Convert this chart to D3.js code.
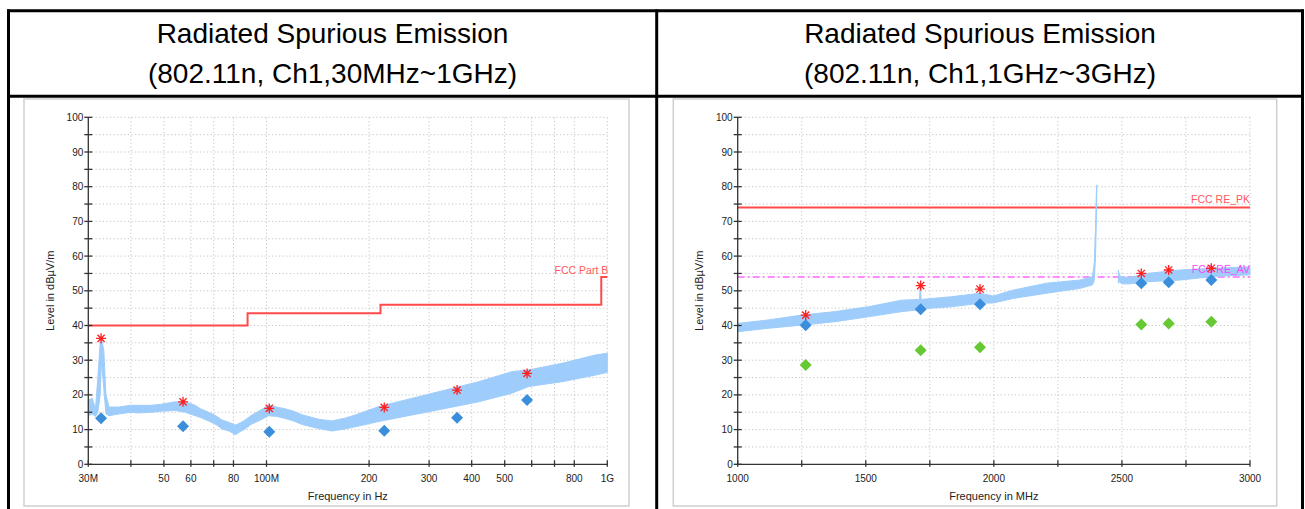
<!DOCTYPE html>
<html><head><meta charset="utf-8">
<script src="https://cdn.jsdelivr.net/npm/d3@7"></script>
<style>
body{margin:0;background:#fff}
svg{display:block;font-family:"Liberation Sans",Arial,sans-serif}
</style>
</head><body>
<svg id="c" width="1305" height="509"></svg>
<script>
// ---------------- DATA ----------------
const titleLine1 = ["Radiated Spurious Emission", "Radiated Spurious Emission"];
const titleLine2 = ["(802.11n, Ch1,30MHz~1GHz)", "(802.11n, Ch1,1GHz~3GHz)"];
const yTickValues = [0, 10, 20, 30, 40, 50, 60, 70, 80, 90, 100];
const yMinorValues = [5, 15, 25, 35, 45, 55, 65, 75, 85, 95];
const yTitle = "Level in dBµV/m";

// Left chart (30 MHz ~ 1 GHz, log axis)
const leftXTicks = [30, 40, 50, 60, 70, 80, 100, 200, 300, 400, 500, 600, 700, 800, 1000];
const leftXLabels = {30: "30M", 50: "50", 60: "60", 80: "80", 100: "100M", 200: "200", 300: "300", 400: "400", 500: "500", 800: "800", 1000: "1G"};
const leftXTitle = "Frequency in Hz";
const leftTraceFreq = [30, 30.8, 31.5, 32.0, 32.5, 32.8, 33.3, 33.8, 34.5, 36.8, 40, 42, 46, 49, 54, 57.8, 61.8, 64, 67.6, 71, 74, 78, 81, 84, 86.6, 90, 94.8, 101.4, 107, 113.5, 120, 127, 142, 155.6, 170, 182, 213, 267, 335, 419, 525, 588, 737, 922, 1000];
const leftTraceLo = [14, 14.5, 13.8, 15, 20, 30, 22, 14.5, 14, 14.5, 15, 14.8, 15, 15.3, 15.5, 15, 14, 13.5, 12.5, 11.5, 10.2, 9.5, 8.5, 9.5, 10.2, 11.5, 12.5, 14, 13.8, 13.2, 12.5, 11.5, 10.3, 9.6, 10.2, 10.8, 12.3, 14.2, 16.1, 18, 20.5, 22.4, 23.8, 25.7, 26.5];
const leftTraceHi = [18.5, 19, 16, 25, 35, 36, 33, 20, 16.5, 16.5, 17, 17, 17, 17.3, 18, 18, 17, 16, 15, 14, 12.8, 12, 11.3, 12, 12.8, 14, 15.3, 17, 16.5, 16, 15.3, 14.3, 13, 12.5, 13.3, 14.2, 16.6, 19, 21.4, 23.8, 26.7, 27.2, 29.1, 31.5, 32];
const leftLimitFreq = [30, 88, 88, 216, 216, 960, 960, 1000];
const leftLimitLevel = [40, 40, 43.5, 43.5, 46, 46, 54, 54];
const leftLimitName = "FCC Part B";
const leftMarkFreq = [32.7, 56.9, 101.9, 221.6, 362.4, 581.5];
const leftPeak = [36.3, 18.0, 16.1, 16.4, 21.4, 26.2];
const leftQP = [13.3, 11.0, 9.4, 9.7, 13.4, 18.5];

// Right chart (1 GHz ~ 3 GHz, linear axis)
const rightXTicks = [1000, 1250, 1500, 1750, 2000, 2250, 2500, 2750, 3000];
const rightXLabels = {1000: "1000", 1500: "1500", 2000: "2000", 2500: "2500", 3000: "3000"};
const rightXTitle = "Frequency in MHz";
const rightTraceFreq = [1000, 1119, 1250, 1380, 1510, 1640, 1705, 1710, 1712, 1714, 1716, 1835, 1946, 1998, 2076, 2206, 2337, 2385, 2392, 2397, 2400, 2402, 2403, 2486, 2490, 2500, 2532, 2597, 2727, 2857, 3000];
const rightTraceLo = [38.2, 39.2, 40.1, 41.1, 42.5, 44, 44.5, 44.8, 45, 45, 44.8, 45.4, 46.4, 46.5, 47.8, 49.3, 50.7, 51.7, 53, 60, 70, 79.5, null, 52.2, 52.6, 52, 52, 52.6, 53.1, 54.1, 54.6];
const rightTraceHi = [40.6, 41.6, 43, 44, 45.4, 47.3, 47.5, 47.6, 51.2, 51.2, 47.5, 48.3, 49.3, 48.5, 50.2, 52.2, 53.1, 54.1, 58, 68, 78, 80.5, null, 56, 54.5, 54, 53.9, 55, 56, 56.5, 56.9];
const rightLimitPK = 74, rightLimitAV = 54;
const rightLimitPKName = "FCC RE_PK", rightLimitAVName = "FCC RE_AV";
const rightMarkFreq = [1265.5, 1714.4, 1946, 2575.7, 2682.5, 2848.9];
const rightPeak = [43.0, 51.5, 50.5, 55.0, 56.0, 56.5];
const rightPK = [40.1, 44.7, 46.1, 52.2, 52.5, 53.1];
const rightAV = [28.6, 32.9, 33.7, 40.3, 40.6, 41.1];

// ---------------- DRAW ----------------
const svg = d3.select("#c");
const C = {
  trace: "#9fcdfb", diamond: "#3a8edc", green: "#66c933", star: "#ff2020",
  limit: "#ff4a4a", av: "#ff66ff", axis: "#333", grid: "#c4c4c4", frame: "#cfcfcf"
};

// table borders
const tb = svg.append("g").attr("stroke", "#000").attr("stroke-width", 3).attr("fill", "none");
tb.append("line").attr("x1", 7).attr("x2", 1304).attr("y1", 10.8).attr("y2", 10.8);
tb.append("line").attr("x1", 8.5).attr("x2", 8.5).attr("y1", 9.5).attr("y2", 509);
tb.append("line").attr("x1", 1302.5).attr("x2", 1302.5).attr("y1", 9.5).attr("y2", 509);
tb.append("line").attr("x1", 7).attr("x2", 1304).attr("y1", 96.3).attr("y2", 96.3);
tb.append("line").attr("x1", 656.7).attr("x2", 656.7).attr("y1", 9.5).attr("y2", 509);

// header titles
[332.5, 980].forEach((cx, i) => {
  svg.append("text").attr("x", cx).attr("y", 43).attr("text-anchor", "middle")
    .attr("font-size", 28).attr("fill", "#000").text(titleLine1[i]);
  svg.append("text").attr("x", cx).attr("y", 83).attr("text-anchor", "middle")
    .attr("font-size", 28).attr("fill", "#000").text(titleLine2[i]);
});

function star(r) {
  const a = r * 0.72;
  return `M0,${-r}L0,${r}M${-r},0L${r},0M${-a},${-a}L${a},${a}M${-a},${a}L${a},${-a}`;
}
const diamondPath = "M0,-6L6,0L0,6L-6,0Z";

function chart(opt) {
  const g = svg.append("g");
  // frame
  g.append("rect").attr("x", opt.frame[0]).attr("y", 99).attr("width", opt.frame[1] - opt.frame[0])
    .attr("height", 407).attr("fill", "#fff").attr("stroke", C.frame).attr("stroke-width", 1.5);
  const x = opt.x, y = d3.scaleLinear().domain([0, 100]).range([464.3, 117.3]);
  const [xa, xb] = x.range();
  // grid
  const grid = g.append("g").attr("stroke", C.grid).attr("stroke-width", 1).attr("stroke-dasharray", "1.2,2.4");
  yTickValues.concat(yMinorValues).filter(v => v > 0).forEach(v => {
    grid.append("line").attr("x1", xa).attr("x2", xb).attr("y1", y(v)).attr("y2", y(v));
  });
  opt.xTicks.slice(1).forEach(v => {
    grid.append("line").attr("x1", x(v)).attr("x2", x(v)).attr("y1", y(0)).attr("y2", y(100));
  });
  // limits
  opt.limits(g, x, y);
  // trace
  const data = opt.tf.map((f, i) => ({f, lo: opt.tlo[i], hi: opt.thi[i]}));
  const area = d3.area().defined(d => d.lo != null).x(d => x(d.f)).y0(d => y(d.lo)).y1(d => y(d.hi));
  g.append("path").datum(data).attr("d", area).attr("fill", C.trace)
    .attr("stroke", C.trace).attr("stroke-width", 1);
  // limit labels (drawn above the trace)
  opt.labels(g, x, y);
  // markers
  opt.markers(g, x, y);
  // axes
  const ax = g.append("g").attr("stroke", C.axis).attr("stroke-width", 1.3);
  ax.append("line").attr("x1", xa).attr("x2", xa).attr("y1", y(0)).attr("y2", y(100));
  ax.append("line").attr("x1", xa).attr("x2", xb).attr("y1", y(0)).attr("y2", y(0));
  yTickValues.concat(yMinorValues).forEach(v => {
    ax.append("line").attr("x1", xa - 4).attr("x2", xa + 4).attr("y1", y(v)).attr("y2", y(v));
  });
  opt.xTicks.forEach(v => {
    ax.append("line").attr("x1", x(v)).attr("x2", x(v)).attr("y1", y(0) - 4).attr("y2", y(0) + 2.5);
  });
  const tl = g.append("g").attr("font-size", 10).attr("fill", "#222");
  yTickValues.forEach(v => {
    tl.append("text").attr("x", xa - 5).attr("y", y(v) + 3.5).attr("text-anchor", "end").text(v);
  });
  opt.xTicks.forEach(v => {
    if (opt.xLabels[v]) tl.append("text").attr("x", x(v)).attr("y", 482).attr("text-anchor", "middle").text(opt.xLabels[v]);
  });
  g.append("text").attr("x", (xa + xb) / 2).attr("y", 500).attr("text-anchor", "middle")
    .attr("font-size", 11).attr("fill", "#222").text(opt.xTitle);
  g.append("text").attr("transform", `translate(${opt.yTitleX},${(y(0) + y(100)) / 2}) rotate(-90)`)
    .attr("text-anchor", "middle").attr("font-size", 11).attr("fill", "#222").text(yTitle);
}

// left chart
chart({
  frame: [24, 629],
  x: d3.scaleLog().domain([30, 1000]).range([88.3, 607.3]),
  xTicks: leftXTicks, xLabels: leftXLabels, xTitle: leftXTitle, yTitleX: 54,
  tf: leftTraceFreq, tlo: leftTraceLo, thi: leftTraceHi,
  limits: (g, x, y) => {
    const line = d3.line().x(d => x(d[0])).y(d => y(d[1]));
    g.append("path").datum(leftLimitFreq.map((f, i) => [f, leftLimitLevel[i]])).attr("d", line)
      .attr("fill", "none").attr("stroke", C.limit).attr("stroke-width", 2);
  },
  labels: (g, x, y) => {
    g.append("text").attr("x", x(1000) + 1).attr("y", 274).attr("text-anchor", "end")
      .attr("font-size", 10.5).attr("fill", "#ff5a5a").text(leftLimitName);
  },
  markers: (g, x, y) => {
    leftMarkFreq.forEach((f, i) => {
      g.append("path").attr("d", diamondPath).attr("transform", `translate(${x(f)},${y(leftQP[i])})`).attr("fill", C.diamond);
    });
    leftMarkFreq.forEach((f, i) => {
      g.append("path").attr("d", star(5)).attr("transform", `translate(${x(f)},${y(leftPeak[i])})`)
        .attr("stroke", C.star).attr("stroke-width", 1.3).attr("fill", "none");
    });
  }
});

// right chart
chart({
  frame: [673.3, 1276.7],
  x: d3.scaleLinear().domain([1000, 3000]).range([737.7, 1250]),
  xTicks: rightXTicks, xLabels: rightXLabels, xTitle: rightXTitle, yTitleX: 703,
  tf: rightTraceFreq, tlo: rightTraceLo, thi: rightTraceHi,
  limits: (g, x, y) => {
    g.append("line").attr("x1", x(1000)).attr("x2", x(3000)).attr("y1", y(rightLimitAV)).attr("y2", y(rightLimitAV))
      .attr("stroke", C.av).attr("stroke-width", 1.5).attr("stroke-dasharray", "7,3,2,3");
    g.append("line").attr("x1", x(1000)).attr("x2", x(3000)).attr("y1", y(rightLimitPK)).attr("y2", y(rightLimitPK))
      .attr("stroke", C.limit).attr("stroke-width", 2);
  },
  labels: (g, x, y) => {
    g.append("text").attr("x", x(3000)).attr("y", 203).attr("text-anchor", "end")
      .attr("font-size", 10.5).attr("fill", "#ff5a5a").text(rightLimitPKName);
    g.append("text").attr("x", x(3000)).attr("y", 273).attr("text-anchor", "end")
      .attr("font-size", 10.5).attr("fill", "#ff44ff").text(rightLimitAVName);
  },
  markers: (g, x, y) => {
    rightMarkFreq.forEach((f, i) => {
      g.append("path").attr("d", diamondPath).attr("transform", `translate(${x(f)},${y(rightAV[i])})`).attr("fill", C.green);
      g.append("path").attr("d", diamondPath).attr("transform", `translate(${x(f)},${y(rightPK[i])})`).attr("fill", C.diamond);
    });
    rightMarkFreq.forEach((f, i) => {
      g.append("path").attr("d", star(5)).attr("transform", `translate(${x(f)},${y(rightPeak[i])})`)
        .attr("stroke", C.star).attr("stroke-width", 1.3).attr("fill", "none");
    });
  }
});
</script>
</body></html>
